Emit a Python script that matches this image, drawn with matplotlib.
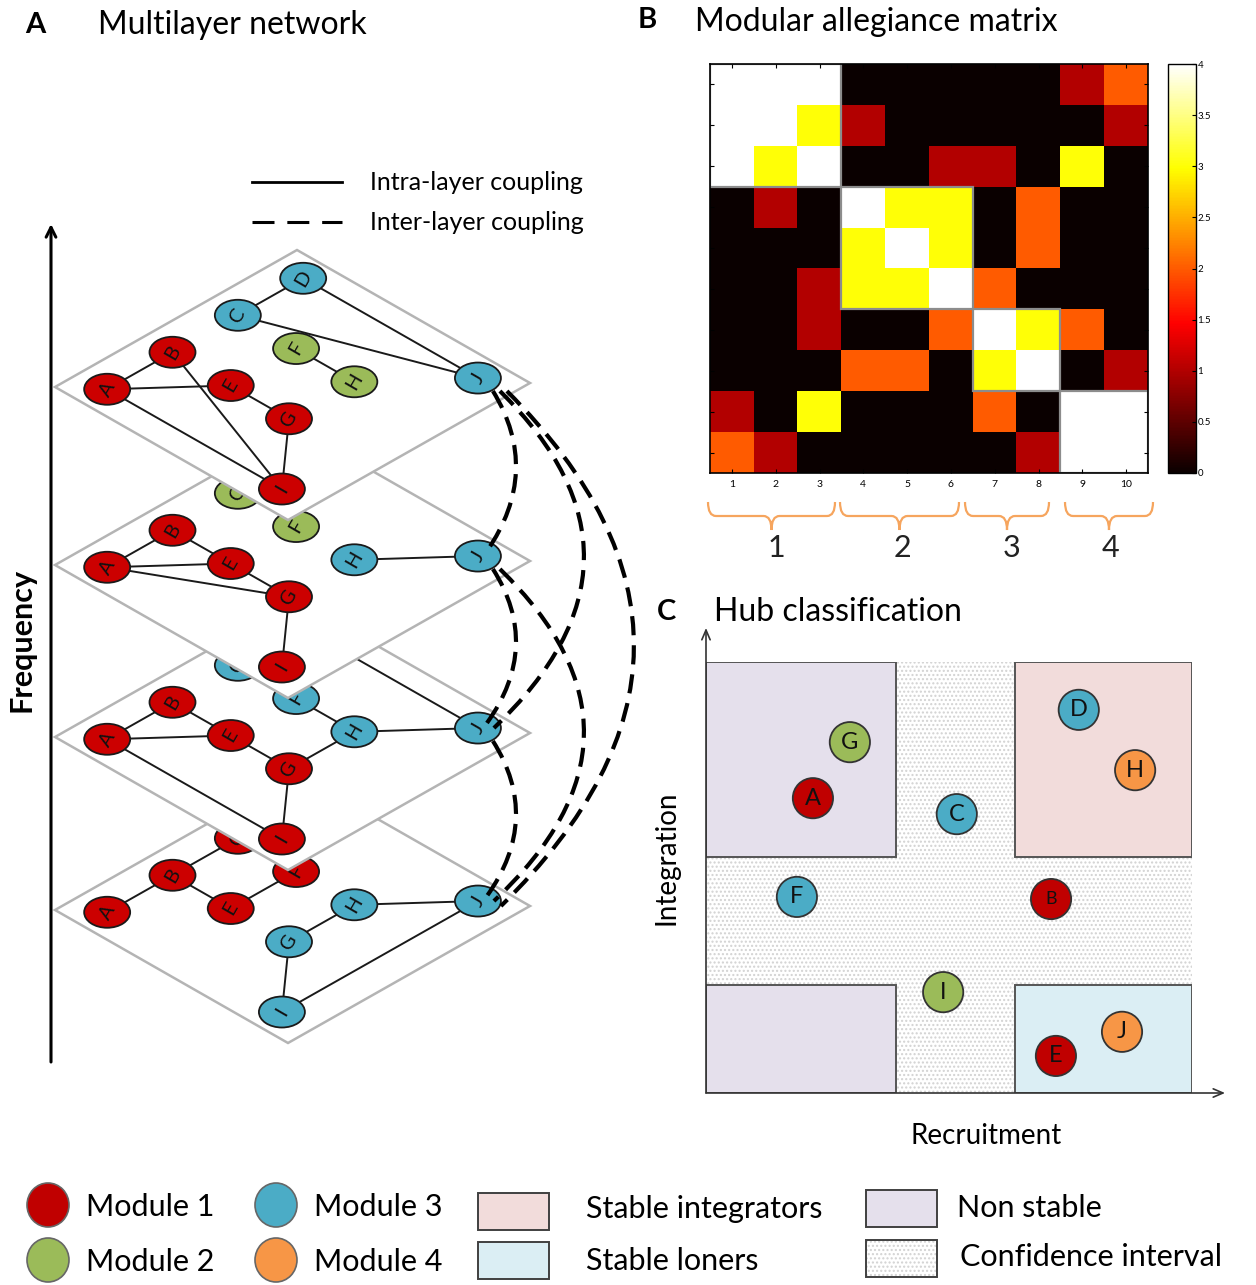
import numpy as np
import matplotlib
matplotlib.use('Agg')
import matplotlib.pyplot as plt
from matplotlib.patches import Polygon, Ellipse, Rectangle, PathPatch
from matplotlib.path import Path
from matplotlib.lines import Line2D

plt.rcParams['font.family'] = ['Lato', 'DejaVu Sans']

# ---------------- data ----------------
# Panel A: multilayer network (4 layers, 10 nodes on a 4x4 grid in each layer)
node_names = ['A', 'B', 'C', 'D', 'E', 'F', 'G', 'H', 'I', 'J']
grid_col = [1, 2, 3, 4, 2, 3, 2, 3, 1, 4]
grid_row = [1, 1, 1, 1, 2, 2, 3, 3, 4, 4]
layer_modules = [
    [1, 1, 3, 3, 1, 2, 1, 2, 1, 3],   # top layer
    [1, 1, 2, 3, 1, 2, 1, 3, 1, 3],
    [1, 1, 3, 3, 1, 3, 1, 3, 1, 3],
    [1, 1, 1, 1, 1, 1, 3, 3, 3, 3],   # bottom layer
]
layer_edges = [
    ['AB', 'AE', 'AI', 'BI', 'EG', 'GI', 'CD', 'CJ', 'DJ', 'FH'],
    ['AB', 'BE', 'AE', 'AG', 'EG', 'GI', 'HJ'],
    ['AB', 'BE', 'AE', 'EG', 'GH', 'FH', 'HJ', 'AI', 'GI', 'DJ'],
    ['AB', 'BC', 'BE', 'EF', 'GH', 'HJ', 'GI', 'IJ'],
]
coupling_pairs = [(0, 1), (0, 2), (0, 3), (1, 2), (1, 3), (2, 3)]

# Panel B: modular allegiance matrix
allegiance = [
    [4, 4, 4, 0, 0, 0, 0, 0, 1, 2],
    [4, 4, 3, 1, 0, 0, 0, 0, 0, 1],
    [4, 3, 4, 0, 0, 1, 1, 0, 3, 0],
    [0, 1, 0, 4, 3, 3, 0, 2, 0, 0],
    [0, 0, 0, 3, 4, 3, 0, 2, 0, 0],
    [0, 0, 1, 3, 3, 4, 2, 0, 0, 0],
    [0, 0, 1, 0, 0, 2, 4, 3, 2, 0],
    [0, 0, 0, 2, 2, 0, 3, 4, 0, 1],
    [1, 0, 3, 0, 0, 0, 2, 0, 4, 4],
    [2, 1, 0, 0, 0, 0, 0, 1, 4, 4],
]
matrix_labels = [str(i) for i in range(1, 11)]
module_blocks = [(0, 3), (3, 6), (6, 8), (8, 10)]
module_labels = ['1', '2', '3', '4']
cbar_ticks = [0, 0.5, 1, 1.5, 2, 2.5, 3, 3.5, 4]

# Panel C: hub classification
hub_names = ['G', 'A', 'C', 'D', 'H', 'F', 'B', 'I', 'J', 'E']
hub_modules = [2, 1, 3, 3, 4, 3, 1, 2, 4, 1]
hub_recruitment = [0.296, 0.220, 0.516, 0.767, 0.883, 0.187, 0.710, 0.488, 0.856, 0.720]
hub_integration = [0.814, 0.684, 0.647, 0.889, 0.749, 0.455, 0.450, 0.234, 0.142, 0.086]
x_bounds = [0.0, 0.391, 0.636, 1.0]
y_bounds = [0.0, 0.251, 0.548, 1.0]

mod_colors = {1: '#C00000', 2: '#9BBB59', 3: '#4BACC6', 4: '#F79646'}
c_integrators = '#F2DCDB'
c_loners = '#DBEEF4'
c_nonstable = '#E5E0EC'
hatch_col = '#D2D2D2'

# ---------------- figure ----------------
W, H = 1256, 1285
fig = plt.figure(figsize=(W / 100, H / 100), dpi=100)
ax = fig.add_axes([0, 0, 1, 1])
ax.set_xlim(0, W)
ax.set_ylim(H, 0)
ax.axis('off')

# ---------- Panel A ----------
ax.text(35, 25, 'A', fontsize=21, fontweight='bold', ha='center', va='center')
ax.text(98, 25, 'Multilayer network', fontsize=23, ha='left', va='center')

ax.plot([252, 342], [182, 182], color='black', lw=2)
ax.add_line(Line2D([252, 342], [222, 222], color='black', lw=2.2, dashes=(7.2, 4.2)))
ax.text(370, 182, 'Intra-layer coupling', fontsize=18, ha='left', va='center')
ax.text(370, 222, 'Inter-layer coupling', fontsize=18, ha='left', va='center')

ax.annotate('', xy=(51, 224), xytext=(51, 1062),
            arrowprops=dict(arrowstyle='->,head_length=0.7,head_width=0.35', lw=2.2,
                            color='black', shrinkA=0, shrinkB=0))
ax.text(22, 640, 'Frequency', rotation=90, fontsize=22, fontweight='bold',
        ha='center', va='center')

layer_y = [387, 565, 737, 910]
LX = 55
va_vec = (242, -137)
vb_vec = (233, 133)


def to_px(k, u, v):
    return (LX + u * va_vec[0] + v * vb_vec[0], layer_y[k] + u * va_vec[1] + v * vb_vec[1])


node_pos = []
for k in range(4):
    pos = {}
    for n, c, r in zip(node_names, grid_col, grid_row):
        pos[n] = to_px(k, 0.10 + 0.27 * (c - 1), 0.12 + 0.25 * (r - 1))
    node_pos.append(pos)

for k in [3, 2, 1, 0]:
    z = 1 + (3 - k) * 1.0
    corners = [to_px(k, 0, 0), to_px(k, 1, 0), to_px(k, 1, 1), to_px(k, 0, 1)]
    ax.add_patch(Polygon(corners, closed=True, facecolor='white', edgecolor='#B4B4B4',
                         lw=1.8, zorder=z))
    pos = node_pos[k]
    for e in layer_edges[k]:
        p, q = pos[e[0]], pos[e[1]]
        ax.plot([p[0], q[0]], [p[1], q[1]], color='#1a1a1a', lw=1.4, zorder=z + 0.1)
    for n, m in zip(node_names, layer_modules[k]):
        x, y = pos[n]
        ax.add_patch(Ellipse((x, y), 46, 31, facecolor=mod_colors[m] if m != 1 else '#CC0000',
                             edgecolor='#1a1a1a', lw=1.3, zorder=z + 0.2))
        ax.text(x, y, n, rotation=60, fontsize=14.5, ha='center', va='center',
                color='#111111', zorder=z + 0.3, rotation_mode='anchor')

bulge = {1: 38, 2: 106, 3: 156}
for i, j in coupling_pairs:
    s = j - i
    ji = node_pos[i]['J']
    jj = node_pos[j]['J']
    p0 = (ji[0] + 8 + 7 * s, ji[1] + 13)
    p2 = (jj[0] + 2 + 7 * s, jj[1] - 10 + 5 * s)
    peak = ji[0] + bulge[s]
    cx = 2 * peak - 0.5 * (p0[0] + p2[0])
    cy = 0.5 * (p0[1] + p2[1])
    path = Path([p0, (cx, cy), p2], [Path.MOVETO, Path.CURVE3, Path.CURVE3])
    pp = PathPatch(path, facecolor='none', edgecolor='black', lw=3.0, zorder=50)
    pp.set_linestyle((0, (4.6, 2.4)))
    ax.add_patch(pp)

# ---------- Panel B ----------
ax.text(647, 20, 'B', fontsize=21, fontweight='bold', ha='center', va='center')
ax.text(695, 22, 'Modular allegiance matrix', fontsize=23, ha='left', va='center')

axm = fig.add_axes([710 / W, 1 - 473 / H, 438 / W, 409 / H])
im = axm.imshow(np.array(allegiance, dtype=float), cmap='hot', vmin=0, vmax=4,
                aspect='auto', interpolation='nearest')
axm.set_xticks(range(10))
axm.set_xticklabels(matrix_labels, fontsize=7.5)
axm.set_yticks(range(10))
axm.set_yticklabels([])
axm.tick_params(direction='in', length=3, top=True, right=True, width=0.8, pad=5)
for sp in axm.spines.values():
    sp.set_linewidth(1.2)
for s0, s1 in module_blocks:
    axm.add_patch(Rectangle((s0 - 0.5, s0 - 0.5), s1 - s0, s1 - s0, fill=False,
                            edgecolor='#8C8C8C', lw=1.6))

cax = fig.add_axes([1168 / W, 1 - 473 / H, 28 / W, 409 / H])
cb = fig.colorbar(im, cax=cax, ticks=cbar_ticks)
cb.ax.set_yticklabels(['%g' % t for t in cbar_ticks], fontsize=7)
cb.ax.tick_params(direction='in', length=3, pad=1, width=0.8)
cb.outline.set_linewidth(1.0)

brace_x = [(708, 835), (840, 959), (965, 1049), (1065, 1153)]
label_x = [776, 902, 1012, 1110]
for (x0, x1), lx, lab in zip(brace_x, label_x, module_labels):
    xc = 0.5 * (x0 + x1)
    yt, ym, yb = 502, 516, 530
    verts = [(x0, yt), (x0, ym), (x0 + 8, ym), (xc - 8, ym), (xc, ym), (xc, yb),
             (xc, ym), (xc + 8, ym), (x1 - 8, ym), (x1, ym), (x1, yt)]
    codes = [Path.MOVETO, Path.CURVE3, Path.CURVE3, Path.LINETO, Path.CURVE3, Path.CURVE3,
             Path.CURVE3, Path.CURVE3, Path.LINETO, Path.CURVE3, Path.CURVE3]
    ax.add_patch(PathPatch(Path(verts, codes), facecolor='none', edgecolor='#F6A55E', lw=1.6))
    ax.text(lx, 548, lab, fontsize=22, ha='center', va='center', color='#222222')

# ---------- Panel C ----------
ax.text(667, 612, 'C', fontsize=21, fontweight='bold', ha='center', va='center')
ax.text(714, 612, 'Hub classification', fontsize=23, ha='left', va='center')

axc = fig.add_axes([706 / W, 1 - 1093 / H, 486 / W, 431 / H])
axc.set_xlim(0, 1)
axc.set_ylim(0, 1)
axc.axis('off')

axc.add_patch(Rectangle((x_bounds[1], 0), x_bounds[2] - x_bounds[1], 1, facecolor='white',
                        edgecolor=hatch_col, lw=0, hatch='....', zorder=1))
axc.add_patch(Rectangle((0, y_bounds[1]), 1, y_bounds[2] - y_bounds[1], facecolor='white',
                        edgecolor=hatch_col, lw=0, hatch='....', zorder=1))
boxes = [((0, 2), c_nonstable), ((2, 2), c_integrators), ((0, 0), c_nonstable), ((2, 0), c_loners)]
for (ix, iy), col in boxes:
    axc.add_patch(Rectangle((x_bounds[ix], y_bounds[iy]), x_bounds[ix + 1] - x_bounds[ix],
                            y_bounds[iy + 1] - y_bounds[iy], facecolor=col,
                            edgecolor='#555555', lw=1.4, zorder=2))

arrow_kw = dict(arrowstyle='->,head_length=0.7,head_width=0.3', lw=1.2, color='#333333',
                shrinkA=0, shrinkB=0)
axc.annotate('', xy=(1.068, 0), xytext=(0, 0), arrowprops=arrow_kw, annotation_clip=False,
             zorder=3)
axc.annotate('', xy=(0, 1.079), xytext=(0, 0), arrowprops=arrow_kw, annotation_clip=False,
             zorder=3)

axc.scatter(hub_recruitment, hub_integration, s=840,
            c=[mod_colors[m] for m in hub_modules], edgecolors='#333333', linewidths=1.3,
            zorder=5, clip_on=False)
for n, x, y in zip(hub_names, hub_recruitment, hub_integration):
    axc.text(x, y, n, fontsize=17 if n != 'B' else 13, ha='center', va='center',
             color='#111111', zorder=6)

ax.text(667, 858, 'Integration', rotation=90, fontsize=20, ha='center', va='center')
ax.text(986, 1136, 'Recruitment', fontsize=20, ha='center', va='center')

# ---------- Legend ----------
leg_circles = [(48, 1205, 1, 'Module 1'), (48, 1260, 2, 'Module 2'),
               (276, 1205, 3, 'Module 3'), (276, 1260, 4, 'Module 4')]
for x, y, m, lab in leg_circles:
    ax.add_patch(Ellipse((x, y), 42, 44, facecolor=mod_colors[m], edgecolor='#666666', lw=1.2))
    ax.text(x + 38, y + 2, lab, fontsize=22, ha='left', va='center')

leg_rects = [(478, 1193, c_integrators, None, 586, 1209, 'Stable integrators'),
             (478, 1242, c_loners, None, 586, 1261, 'Stable loners'),
             (866, 1190, c_nonstable, None, 957, 1208, 'Non stable'),
             (866, 1240, 'white', '....', 960, 1257, 'Confidence interval')]
for x, y, col, hatch, tx, ty, lab in leg_rects:
    if hatch:
        ax.add_patch(Rectangle((x, y), 71, 37, facecolor=col, edgecolor=hatch_col, lw=0,
                               hatch=hatch))
        ax.add_patch(Rectangle((x, y), 71, 37, facecolor='none', edgecolor='#404040', lw=1.4))
    else:
        ax.add_patch(Rectangle((x, y), 71, 37, facecolor=col, edgecolor='#404040', lw=1.4))
    ax.text(tx, ty, lab, fontsize=22, ha='left', va='center')

fig.savefig('out.png', dpi=100)
